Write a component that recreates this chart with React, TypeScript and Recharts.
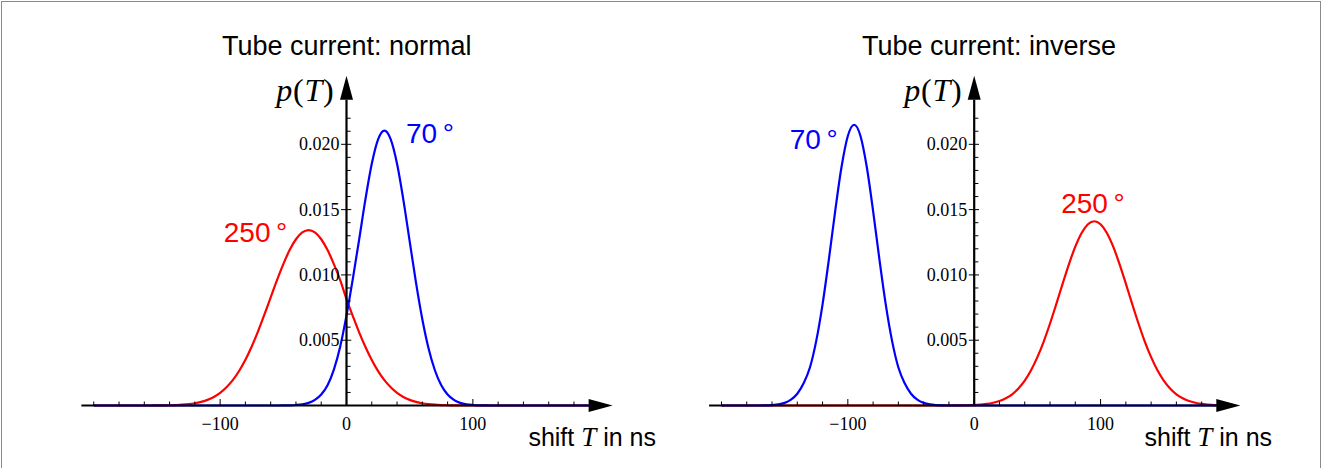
import React from 'react';
import { LineChart, Line, XAxis, YAxis, ReferenceLine, ReferenceDot } from 'recharts';

// shift T in ns (shared grid for both panels)
const shiftNs = [
  -200, -195, -190, -185, -180, -175, -170, -165, -160, -155,
  -150, -145, -140, -135, -130, -125, -120, -115, -110, -105,
  -100, -95, -90, -85, -80, -75, -70, -65, -60, -55,
  -50, -45, -40, -35, -30, -25, -20, -15, -10, -5,
  0, 5, 10, 15, 20, 25, 30, 35, 40, 45,
  50, 55, 60, 65, 70, 75, 80, 85, 90, 95,
  100, 105, 110, 115, 120, 125, 130, 135, 140, 145,
  150, 155, 160, 165, 170, 175, 180, 185, 190, 195,
  200,
];

// p(T), in units of 1e-3
const normal250 = [
  0, 0, 0, 0, 0, 0, 0, 0, 0, 0,
  0.005, 0.01, 0.02, 0.036, 0.06, 0.1, 0.17, 0.28, 0.43, 0.65,
  0.96, 1.39, 1.94, 2.64, 3.5, 4.52, 5.68, 6.95, 8.28, 9.6,
  10.83, 11.9, 12.73, 13.25, 13.43, 13.25, 12.73, 11.9, 10.83, 9.6,
  8.15, 6.85, 5.6, 4.48, 3.48, 2.63, 1.94, 1.39, 0.96, 0.65,
  0.43, 0.28, 0.17, 0.1, 0.06, 0.036, 0.02, 0.01, 0.005, 0,
  0, 0, 0, 0, 0, 0, 0, 0, 0, 0,
  0, 0, 0, 0, 0, 0, 0, 0, 0, 0,
  0,
];
const normal70 = [
  0, 0, 0, 0, 0, 0, 0, 0, 0, 0,
  0, 0, 0, 0, 0, 0, 0, 0, 0, 0,
  0, 0, 0, 0, 0, 0, 0, 0, 0, 0,
  0.005, 0.015, 0.04, 0.09, 0.2, 0.43, 0.84, 1.55, 2.75, 4.5,
  6.9, 9.7, 12.7, 15.8, 18.51, 20.38, 21.05, 20.38, 18.51, 15.75,
  12.57, 9.41, 6.6, 4.34, 2.68, 1.55, 0.84, 0.43, 0.2, 0.09,
  0.04, 0.015, 0.005, 0, 0, 0, 0, 0, 0, 0,
  0, 0, 0, 0, 0, 0, 0, 0, 0, 0,
  0,
];
const inverse70 = [
  0, 0, 0, 0, 0, 0, 0, 0.01, 0.03, 0.08,
  0.2, 0.45, 0.9, 1.7, 2.91, 4.95, 7.75, 11.19, 14.89, 18.26,
  20.64, 21.5, 20.64, 18.26, 14.89, 11.19, 7.75, 4.95, 2.91, 1.7,
  0.9, 0.45, 0.2, 0.08, 0.03, 0.01, 0, 0, 0, 0,
  0, 0, 0, 0, 0, 0, 0, 0, 0, 0,
  0, 0, 0, 0, 0, 0, 0, 0, 0, 0,
  0, 0, 0, 0, 0, 0, 0, 0, 0, 0,
  0, 0, 0, 0, 0, 0, 0, 0, 0, 0,
  0,
];
const inverse250 = [
  0, 0, 0, 0, 0, 0, 0, 0, 0, 0,
  0, 0, 0, 0, 0, 0, 0, 0, 0, 0,
  0, 0, 0, 0, 0, 0, 0, 0, 0, 0,
  0, 0, 0, 0, 0, 0, 0, 0.005, 0.01, 0.02,
  0.036, 0.07, 0.12, 0.21, 0.34, 0.55, 0.86, 1.31, 1.91, 2.7,
  3.7, 4.9, 6.28, 7.78, 9.33, 10.83, 12.16, 13.21, 13.88, 14.11,
  13.88, 13.21, 12.16, 10.83, 9.33, 7.78, 6.28, 4.9, 3.7, 2.7,
  1.91, 1.31, 0.86, 0.55, 0.34, 0.21, 0.12, 0.07, 0.036, 0.02,
  0.01,
];

const shiftTicks = [-200, -180, -160, -140, -120, -100, -80, -60, -40, -20, 0, 20, 40, 60, 80, 100, 120, 140, 160, 180];
const shiftMajor = [-100, 0, 100];
const pMinor = [1, 2, 3, 4, 6, 7, 8, 9, 11, 12, 13, 14, 16, 17, 18, 19, 21, 22];
const pMajor = [5, 10, 15, 20];

const RED = '#ff0000';
const BLUE = '#0000ff';
const SANS = '"Liberation Sans", Arial, Helvetica, sans-serif';
const SERIF = '"Liberation Serif", "Times New Roman", serif';

const fmtShift = (v: number) => (v < 0 ? `\u2212${Math.abs(v)}` : `${v}`);
const fmtP = (v: number) => (v / 1000).toFixed(3);

const ShiftTick = (props: any) => {
  const { x, y, payload } = props;
  const major = shiftMajor.includes(payload.value);
  return (
    <g>
      <line x1={x} x2={x} y1={y} y2={y - (major ? 6.5 : 4)} stroke="#000" strokeWidth={1} />
      {major && (
        <text x={x} y={y + 24.5} textAnchor="middle" fontFamily={SERIF} fontSize={18} fill="#000">
          {fmtShift(payload.value)}
        </text>
      )}
    </g>
  );
};

const AxisArrow = (props: any) => {
  const { x1, y1, x2, y2 } = props;
  const len = Math.hypot(x2 - x1, y2 - y1) || 1;
  const ux = (x2 - x1) / len;
  const uy = (y2 - y1) / len;
  const bx = x2 - ux * 24;
  const by = y2 - uy * 24;
  const px = -uy * 6.5;
  const py = ux * 6.5;
  return (
    <g>
      <line x1={x1} y1={y1} x2={bx} y2={by} stroke="#000" strokeWidth={2.2} />
      <polygon points={`${x2},${y2} ${bx + px},${by + py} ${bx - px},${by - py}`} fill="#000" />
    </g>
  );
};

interface CurveLabel {
  text: string;
  t: number;
  p: number;
  color: string;
}

interface PanelProps {
  left: number;
  margin: { top: number; right: number; bottom: number; left: number };
  red: number[];
  blue: number[];
  labels: CurveLabel[];
}

const Panel: React.FC<PanelProps> = ({ left, margin, red, blue, labels }) => {
  const rows = shiftNs.map((t, i) => ({ t, red: red[i], blue: blue[i] }));
  return (
    <div style={{ position: 'absolute', left, top: 0 }}>
      <LineChart width={664} height={468} data={rows} margin={margin}>
        <XAxis
          type="number"
          dataKey="t"
          domain={[-212, 212]}
          ticks={shiftTicks}
          interval={0}
          tickSize={0}
          tickMargin={0}
          axisLine={false}
          tickLine={false}
          tick={<ShiftTick />}
          height={40}
        />
        <YAxis type="number" domain={[0, 25.5]} hide />
        <Line type="monotone" dataKey="red" stroke={RED} strokeWidth={2.2} dot={false} activeDot={false} isAnimationActive={false} />
        <Line type="monotone" dataKey="blue" stroke={BLUE} strokeWidth={2.2} dot={false} activeDot={false} isAnimationActive={false} />
        <ReferenceLine segment={[{ x: -209.8, y: 0 }, { x: 210.6, y: 0 }]} shape={<AxisArrow />} />
        <ReferenceLine segment={[{ x: 0, y: 0 }, { x: 0, y: 25.25 }]} shape={<AxisArrow />} />
        {pMinor.map((v) => (
          <ReferenceLine key={`mi${v}`} segment={[{ x: 0, y: v }, { x: 3.3, y: v }]} stroke="#000" strokeWidth={1} />
        ))}
        {pMajor.map((v) => (
          <ReferenceLine key={`ma${v}`} segment={[{ x: -4.3, y: v }, { x: 3.8, y: v }]} stroke="#000" strokeWidth={1} />
        ))}
        {pMajor.map((v) => (
          <ReferenceDot
            key={`lb${v}`}
            x={0}
            y={v}
            r={0}
            shape={(p: any) => (
              <text x={p.cx - 7} y={p.cy} textAnchor="end" dominantBaseline="central" fontFamily={SERIF} fontSize={18} fill="#000">
                {fmtP(v)}
              </text>
            )}
          />
        ))}
        {labels.map((l) => (
          <ReferenceDot
            key={l.text}
            x={l.t}
            y={l.p}
            r={0}
            shape={(p: any) => (
              <text x={p.cx} y={p.cy} textAnchor="middle" dominantBaseline="central" fontFamily={SANS} fontSize={28} fill={l.color}>
                {l.text}
              </text>
            )}
          />
        ))}
      </LineChart>
    </div>
  );
};

const AxisTexts = ({ titleX, title, pEnd, shiftStart }: { titleX: number; title: string; pEnd: number; shiftStart: number }) => (
  <g>
    <text x={titleX} y={55} textAnchor="middle" fontFamily={SANS} fontSize={27} fill="#000">
      {title}
    </text>
    <text x={pEnd} y={101} textAnchor="end" fontFamily={SERIF} fontSize={32} fill="#000" letterSpacing={0.8}>
      <tspan fontStyle="italic">p</tspan>
      <tspan>(</tspan>
      <tspan fontStyle="italic">T</tspan>
      <tspan>)</tspan>
    </text>
    <text x={shiftStart} y={446} fontFamily={SANS} fontSize={25} fill="#000">
      shift <tspan fontFamily={SERIF} fontStyle="italic" fontSize={27}>T</tspan> in ns
    </text>
  </g>
);

export default function App() {
  return (
    <div style={{ position: 'absolute', left: 0, top: 0, width: 1328, height: 468, background: '#fff', overflow: 'hidden' }}>
      <div
        style={{
          position: 'absolute',
          left: 1,
          top: 1,
          width: 1320,
          height: 500,
          border: '1.5px solid #8a8a8a',
          boxSizing: 'border-box',
        }}
      />
      <Panel
        left={0}
        margin={{ top: 72.5, right: 49.6, bottom: 22.5, left: 78.6 }}
        red={normal250}
        blue={normal70}
        labels={[
          { text: '70\u2009°', t: 66, p: 20.8, color: BLUE },
          { text: '250\u2009°', t: -72, p: 13.25, color: RED },
        ]}
      />
      <Panel
        left={664}
        margin={{ top: 72.5, right: 85.9, bottom: 22.5, left: 42.3 }}
        red={inverse250}
        blue={inverse70}
        labels={[
          { text: '70\u2009°', t: -127, p: 20.4, color: BLUE },
          { text: '250\u2009°', t: 94, p: 15.5, color: RED },
        ]}
      />
      <svg width={1328} height={468} style={{ position: 'absolute', left: 0, top: 0, pointerEvents: 'none' }}>
        <AxisTexts titleX={346.7} title="Tube current: normal" pEnd={334.5} shiftStart={528.4} />
        <AxisTexts titleX={989} title="Tube current: inverse" pEnd={962.5} shiftStart={1144.5} />
      </svg>
    </div>
  );
}
